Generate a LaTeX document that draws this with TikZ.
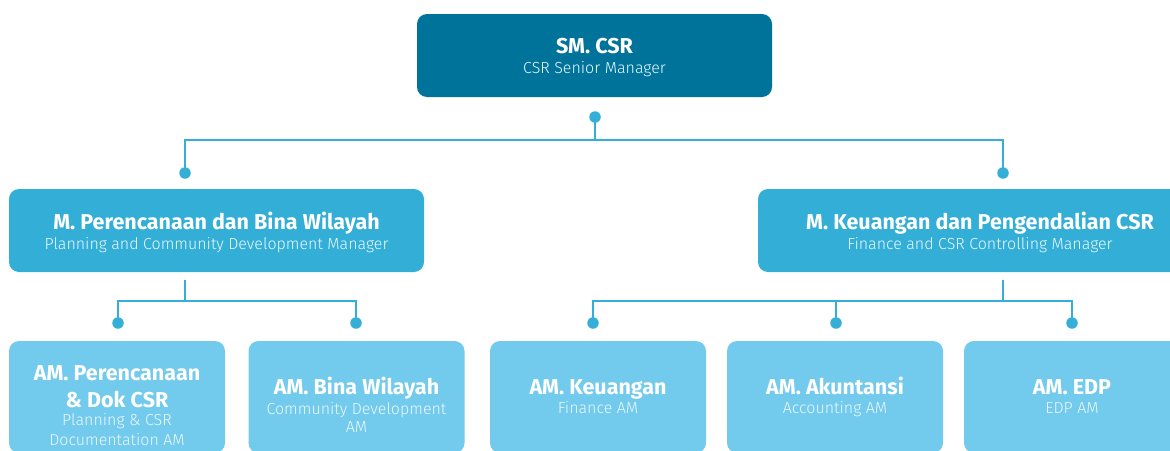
\documentclass[tikz,border=0pt]{standalone}
\usepackage{fontspec}
\setmainfont{Fira Sans}
\newfontfamily\subfont{Fira Sans Light}
\definecolor{topc}{HTML}{00739A}
\definecolor{midc}{HTML}{33AED6}
\definecolor{lowc}{HTML}{72CAEC}
\definecolor{linec}{HTML}{36AFD8}
\tikzset{
  box/.style={rounded corners=10pt, inner sep=0pt, draw=none},
  topbox/.style={box, fill=topc, minimum width=355pt, minimum height=83pt},
  midbox/.style={box, fill=midc, minimum height=83pt},
  lowbox/.style={box, fill=lowc, minimum width=216pt, minimum height=112pt},
  txt/.style={align=center, text=white, inner sep=0pt},
  conn/.style={draw=linec, line width=2pt},
  dot/.style={circle, fill=linec, minimum size=11.5pt, inner sep=0pt},
}
\newcommand{\mytl}[1]{{\fontsize{21.5}{24}\selectfont\bfseries #1}}
\newcommand{\mysl}[1]{{\fontsize{16}{19}\selectfont\subfont\color{white!92!cyan} #1}}
\begin{document}
\begin{tikzpicture}[x=1pt,y=-1pt]
\useasboundingbox (0,0) rectangle (1170,450);
\clip (0,0) rectangle (1170,450);
% boxes
\node[topbox] (sm) at (594.5,55.5) {};
\node[midbox, minimum width=415pt] (m1) at (216.5,230.5) {};
\node[midbox, minimum width=444pt] (m2) at (980,230.5) {};
\node[lowbox] (a1) at (117,397) {};
\node[lowbox] (a2) at (356.5,397) {};
\node[lowbox] (a3) at (598,397) {};
\node[lowbox] (a4) at (835,397) {};
\node[lowbox] (a5) at (1072,397) {};
% texts
\node[txt, anchor=base] (smt) at (594.5,53.5) {\mytl{SM. CSR}};
\node[txt, anchor=base] (sms) at (594.5,73.5) {\mysl{CSR Senior Manager}};
\node[txt, anchor=base] (m1t) at (216.5,229.5) {\mytl{M. Perencanaan dan Bina Wilayah}};
\node[txt, anchor=base] (m1s) at (216.5,249.5) {\mysl{Planning and Community Development Manager}};
\node[txt, anchor=base] (m2t) at (980,229.5) {\mytl{M. Keuangan dan Pengendalian CSR}};
\node[txt, anchor=base] (m2s) at (980,249.5) {\mysl{Finance and CSR Controlling Manager}};
\node[txt, anchor=base] (a1t) at (117,380.5) {\mytl{AM. Perencanaan}};
\node[txt, anchor=base] (a1u) at (117,407.5) {\mytl{\& Dok CSR}};
\node[txt, anchor=base] (a1s) at (117,425.5) {\mysl{Planning \& CSR}};
\node[txt, anchor=base] (a1v) at (117,445.5) {\mysl{Documentation AM}};
\node[txt, anchor=base] (a2t) at (356.5,394.5) {\mytl{AM. Bina Wilayah}};
\node[txt, anchor=base] (a2s) at (356.5,414.5) {\mysl{Community Development}};
\node[txt, anchor=base] (a2v) at (356.5,432.5) {\mysl{AM}};
\node[txt, anchor=base] (a3t) at (598,394.5) {\mytl{AM. Keuangan}};
\node[txt, anchor=base] (a3s) at (598,413.5) {\mysl{Finance AM}};
\node[txt, anchor=base] (a4t) at (835,394.5) {\mytl{AM. Akuntansi}};
\node[txt, anchor=base] (a4s) at (835,413.5) {\mysl{Accounting AM}};
\node[txt, anchor=base] (a5t) at (1072,394.5) {\mytl{AM. EDP}};
\node[txt, anchor=base] (a5s) at (1072,413.5) {\mysl{EDP AM}};
% dots
\node[dot] (d0) at (595,117) {};
\node[dot] (d1) at (185,173) {};
\node[dot] (d2) at (1003,173) {};
\node[dot] (e1) at (118,323) {};
\node[dot] (e2) at (356,323) {};
\node[dot] (e3) at (593,323) {};
\node[dot] (e4) at (836,323) {};
\node[dot] (e5) at (1072,323) {};
% junctions
\coordinate (j0) at (595,140);
\coordinate (s1) at (185,280);
\coordinate (j1) at (185,301);
\coordinate (s2) at (1003,280);
\coordinate (j2) at (1003,301);
% connectors
\draw[conn] (d0.center) -- (j0) -| (d1.center);
\draw[conn] (j0) -| (d2.center);
\draw[conn] (s1) -- (j1) -| (e1.center);
\draw[conn] (j1) -| (e2.center);
\draw[conn] (s2) -- (j2) -| (e3.center);
\draw[conn] (j2) -| (e5.center);
\draw[conn] (e4.center) -- (e4.center |- j2);
\end{tikzpicture}
\end{document}
